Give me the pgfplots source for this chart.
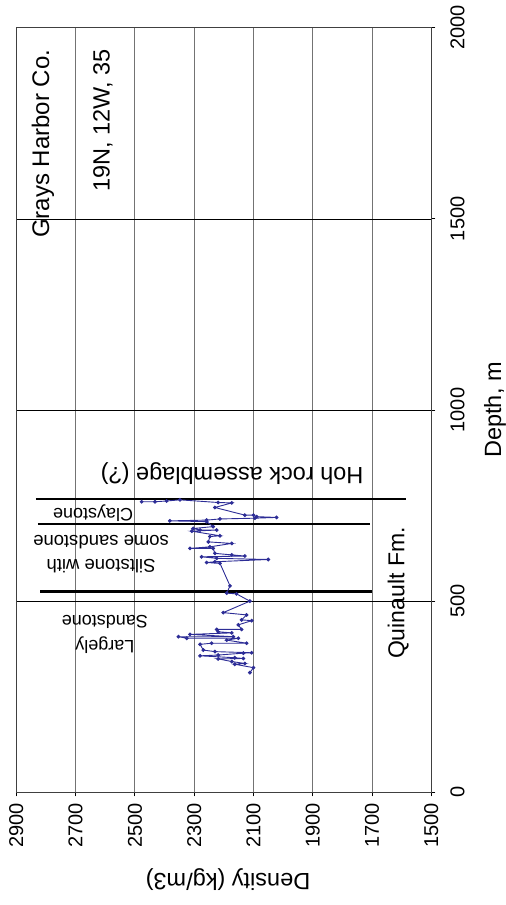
\documentclass[border=0pt]{standalone}
\usepackage{pgfplots}
\pgfplotsset{compat=1.18}
\usepackage{fontspec}
\setmainfont{Liberation Sans}
\definecolor{dataBlue}{RGB}{45,45,150}
\begin{document}
\begin{tikzpicture}
\begin{axis}[
  at={(0,0)}, anchor=south west,
  scale only axis, width=415pt, height=764.6pt,
  x dir=reverse, xmin=1500, xmax=2900, ymin=0, ymax=2000,
  xtick={1500,1700,1900,2100,2300,2500,2700,2900},
  ytick={0,500,1000,1500,2000},
  /pgf/number format/assume math mode=true,
  /pgf/number format/1000 sep={},
  axis line style={draw=black!75, line width=0.9pt},
  xmajorgrids, ymajorgrids,
  x grid style={draw=black!55, line width=0.9pt},
  y grid style={draw=black, line width=0.6pt},
  tick align=outside, xtick pos=bottom, ytick pos=right,
  major tick length=4pt,
  tick style={black, line width=0.8pt},
  xticklabel style={rotate=90, anchor=east, inner sep=0pt, xshift=-7pt,
    font=\fontsize{20}{20}\selectfont},
  yticklabel style={rotate=90, anchor=north, inner sep=0pt, yshift=-15pt,
    font=\fontsize{20}{20}\selectfont},
  xlabel={Density (kg/m3)}, ylabel={Depth, m},
  every axis x label/.style={at={(axis description cs:0.5,0)}, anchor=center,
    yshift=-87.7pt, xshift=4.2pt, rotate=180, font=\fontsize{23.5}{24}\selectfont},
  every axis y label/.style={at={(axis description cs:1,0.5)}, anchor=center,
    xshift=63.7pt, rotate=90, font=\fontsize{23.5}{24}\selectfont},
  clip=false,
]
% formation boundary lines
\addplot[black, line width=2.2pt] coordinates {(2834,767) (1586,767)};
\addplot[black, line width=2.2pt] coordinates {(2827,702) (1708,702)};
\addplot[black, line width=2.2pt] coordinates {(2820,525) (1700,525)};
% density log
\addplot[dataBlue, line width=0.9pt, mark=*, mark size=1.4pt, mark options={fill=dataBlue}] coordinates {
(2112,313) (2100,326) (2163,335) (2129,337) (2173,342) (2219,349) (2134,350) (2163,352)
(2280,357) (2219,359) (2134,364) (2106,365) (2230,368) (2269,372) (2280,387) (2241,390)
(2123,390) (2190,398) (2151,403) (2325,403) (2353,407) (2168,407) (2314,413) (2173,417)
(2219,420) (2224,426) (2140,426) (2151,438) (2106,449) (2140,451) (2123,464) (2202,470)
(2112,500) (2157,519) (2190,521) (2179,540) (2213,599) (2258,601) (2230,603) (2050,609)
(2224,612) (2275,616) (2129,618) (2173,621) (2230,625) (2236,638) (2314,638) (2247,642)
(2173,651) (2252,655) (2247,669) (2213,671) (2308,683) (2224,686) (2280,686) (2303,690)
(2236,695) (2258,708) (2382,710) (2258,712) (2213,715) (2095,717) (2022,719) (2089,721)
(2100,725) (2129,725) (2230,745) (2173,757) (2219,758) (2348,765) (2393,762) (2432,760)
(2477,760)
};
% annotations
\node[rotate=90, font=\fontsize{24}{28}\selectfont] at (axis cs:2810,1696) {Grays Harbor Co.};
\node[rotate=90, font=\fontsize{23.5}{28}\selectfont] at (axis cs:2608,1758) {19N, 12W, 35};
\node[rotate=90, font=\fontsize{23}{28}\selectfont] at (axis cs:1612,521) {Quinault Fm.};
\node[rotate=180, font=\fontsize{23.5}{28}\selectfont] at (axis cs:2172,835) {Hoh rock assemblage (?)};
\node[rotate=180, font=\fontsize{18}{22}\selectfont] at (axis cs:2641,731) {Claystone};
\node[rotate=180, align=center, font=\fontsize{18.5}{24}\selectfont] at (axis cs:2614,623) {Siltstone with\\some sandstone};
\node[rotate=180, align=center, font=\fontsize{18}{25}\selectfont] at (axis cs:2601,413) {Largely\\Sandstone};
\end{axis}
\pgfresetboundingbox
\path (-16.3pt,-112.7pt) rectangle (489.7pt,792.3pt);
\end{tikzpicture}
\end{document}
